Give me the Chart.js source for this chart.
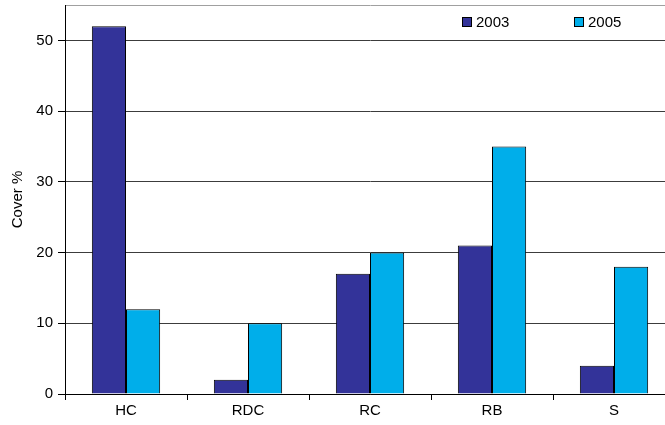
<!DOCTYPE html>
<html>
<head>
<meta charset="utf-8">
<script src="https://cdn.jsdelivr.net/npm/chart.js@4.4.1/dist/chart.umd.min.js"></script>
<style>
    html, body { margin: 0; padding: 0; background: #fff; overflow: hidden; }
    #wrap { position: relative; width: 675px; height: 425px; }
</style>
</head>
<body>
<div id="wrap"><canvas id="chart"></canvas></div>
<script>

const categories = [ 'HC', 'RDC', 'RC', 'RB', 'S' ];
const cover2003 = [ 52, 2, 17, 21, 4 ];
const cover2005 = [ 12, 10, 20, 35, 18 ];
const seriesLabels = [ '2003', '2005' ];
const yTicks = [ 0, 10, 20, 30, 40, 50 ];

const colors = [ '#333399', '#00aeea' ];

// legend sits inside the plot, top right, like the original
const innerLegend = {
    id: 'innerLegend',
    afterDraw ( chart ) {
        const c = chart.ctx;
        const xs = [ 462, 574 ];
        c.save();
        c.font = '15px "Liberation Sans", Arial, sans-serif';
        c.textBaseline = 'middle';
        c.textAlign = 'left';
        seriesLabels.forEach( ( label, i ) => {
            c.fillStyle = colors[ i ];
            c.fillRect( xs[ i ] + 0.5, 17.5, 9, 9 );
            c.strokeStyle = '#000';
            c.lineWidth = 1;
            c.strokeRect( xs[ i ] + 0.5, 17.5, 9, 9 );
            c.fillStyle = '#000';
            c.fillText( label, xs[ i ] + 14, 22.5 );
        } );
        c.restore();
    }
};

document.addEventListener( 'DOMContentLoaded', function () {

    Chart.defaults.responsive = true;
    Chart.defaults.maintainAspectRatio = false;
    Chart.defaults.animation = false;
    Chart.defaults.font.family = '"Liberation Sans", Arial, sans-serif';
    Chart.defaults.font.size = 15;
    Chart.defaults.color = '#000';

    new Chart( document.getElementById( 'chart' ), {
        type: 'bar',
        data: {
            labels: categories,
            datasets: [ {
                label: seriesLabels[ 0 ],
                data: cover2003,
                backgroundColor: colors[ 0 ],
                borderColor: '#000',
                borderWidth: 1
            }, {
                label: seriesLabels[ 1 ],
                data: cover2005,
                backgroundColor: colors[ 1 ],
                borderColor: '#000',
                borderWidth: 1
            } ]
        },
        options: {
            layout: { padding: { top: 5, left: 0, right: 0, bottom: 0 } },
            datasets: { bar: { categoryPercentage: 0.56, barPercentage: 1 } },
            plugins: {
                legend: { display: false },
                tooltip: { enabled: false }
            },
            scales: {
                x: {
                    grid: {
                        offset: true,
                        drawOnChartArea: false,
                        tickLength: 6,
                        color: '#000'
                    },
                    border: { color: '#000' },
                    ticks: { padding: 2 },
                    afterFit: s => { s.height = 31; }
                },
                y: {
                    min: 0,
                    max: 55,
                    afterBuildTicks: s => {
                        s.ticks = yTicks.map( v => ( { value: v } ) ).concat( [ { value: 55 } ] );
                    },
                    ticks: {
                        padding: 5,
                        callback: v => ( v === 55 ? '' : v )
                    },
                    grid: {
                        tickLength: 7,
                        color: ctx => ( ctx.tick && ctx.tick.value === 55 ? '#a0a0a0' : '#3c3c3c' ),
                        tickColor: ctx => ( ctx.tick && ctx.tick.value === 55 ? 'rgba(0,0,0,0)' : '#000' )
                    },
                    border: { color: '#000' },
                    title: {
                        display: true,
                        text: 'Cover %',
                        font: { size: 15 },
                        padding: { top: 9, bottom: 0 }
                    },
                    afterFit: s => {
                        s.width = 65;
                        s.paddingTop = 0;
                        s.paddingBottom = 0;
                    }
                }
            }
        },
        plugins: [ innerLegend ]
    } );

} );

</script>
</body>
</html>
